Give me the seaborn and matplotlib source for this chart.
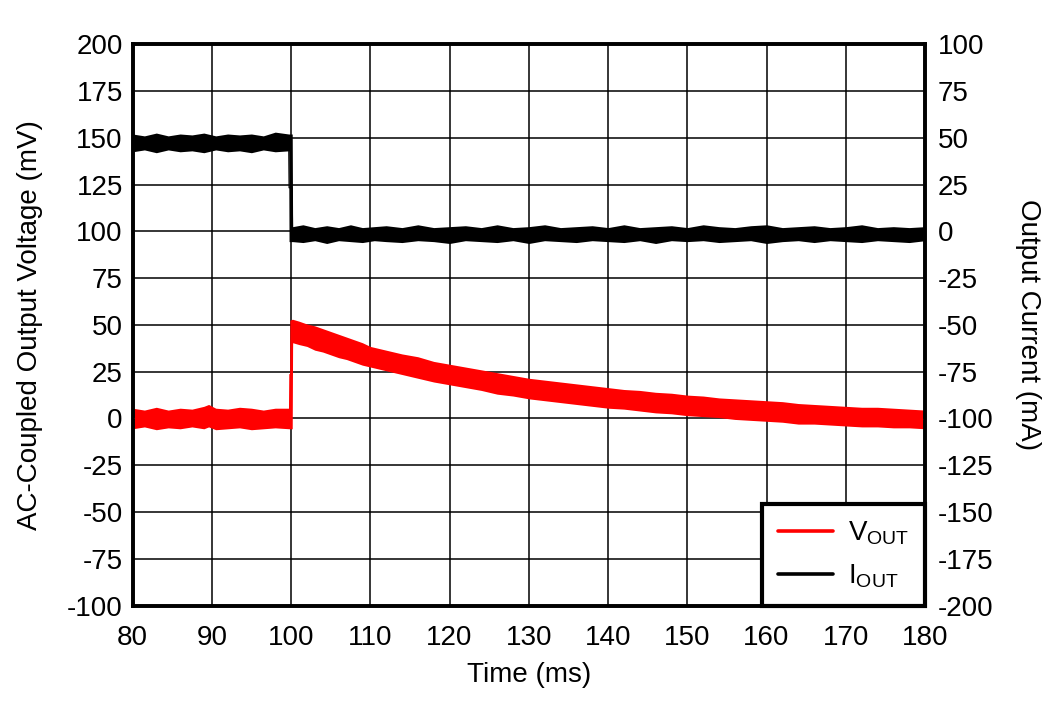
import numpy as np
import pandas as pd
import matplotlib
matplotlib.use("Agg")
import matplotlib.pyplot as plt
import seaborn as sns
from matplotlib.lines import Line2D

# ---------------- data ----------------
# V_OUT band envelope (mV): time (ms), lower edge, upper edge
v_time = [80, 81.5, 83, 84.5, 86, 87.5, 89, 89.6, 90.5, 92, 93.5, 95, 96.5, 98, 99.8,
          99.85, 100.15, 100.2, 101, 102, 103, 104, 105, 106, 107, 108, 109, 110,
          112, 114, 116, 118, 120, 122, 124, 126, 128, 130, 132, 134, 136,
          138, 140, 142, 144, 146, 148, 150, 152, 154, 156, 158, 160,
          162, 164, 166, 168, 170, 172, 174, 176, 178, 180]
v_low = [-5.5, -4.5, -6, -5, -5.5, -4.5, -5.5, -4.5, -6, -5.5, -5, -6, -5.5, -5, -5.5,
         -5.5, -5.5, 40.5, 39.5, 38.5, 36.5, 35.5, 34, 32.5, 31.5, 30, 28.5, 27.5,
         25.5, 23.5, 21.5, 19.5, 18, 16.5, 15, 13, 12, 10.5, 9.5, 8.5, 7.5,
         6.5, 5.5, 5, 4, 3, 2.5, 1.5, 1, 0.5, -0.5, -1, -1.5,
         -2, -3, -3, -3.5, -4, -4.5, -4.5, -5, -5, -5.5]
v_high = [5.5, 4.5, 6, 4.5, 5.5, 5, 6.5, 7.5, 5.5, 5, 6, 5.5, 4.5, 5.5, 5.5,
          52.5, 53, 53, 52, 50.5, 49.5, 48, 46.5, 45, 43.5, 42, 40.5, 38.5,
          36.5, 34.5, 33, 30.5, 29, 27.5, 26, 24.5, 23, 21.5, 20.5, 19.5, 18.5,
          17.5, 16.5, 15.5, 15, 14, 13.5, 12.5, 12, 11, 10.5, 10, 9.5,
          9, 8, 7.5, 7, 6.5, 6, 6, 5.5, 5, 4.5]

# I_OUT band envelope (mA): time (ms), lower edge, upper edge
i_time = [80, 81.5, 83, 84.5, 86, 87.5, 89, 90.5, 92, 93.5, 95, 96.5, 98, 99.7,
          99.75, 100.15, 100.2, 101.5, 103, 104.5, 106, 107.5, 109, 110.5, 112,
          114, 116, 118, 120, 122, 124, 126, 128, 130, 132, 134, 136, 138, 140,
          142, 144, 146, 148, 150, 152, 154, 156, 158, 160, 162, 164, 166,
          168, 170, 172, 174, 176, 178, 180]
i_low = [42.5, 43.5, 42, 43.5, 42.5, 43, 42, 43.5, 42.5, 43, 42, 43.5, 42.5, 43,
         -5.5, -5.5, -5.5, -6, -5, -6.5, -5, -5.5, -6, -5, -5.5,
         -6, -5, -5.5, -6.5, -5, -5.5, -6, -5, -6.5, -5, -5.5, -6, -5, -5.5,
         -6, -5, -6.5, -5, -5.5, -5, -6, -5.5, -5, -6.5, -5.5, -5, -6,
         -5, -5.5, -6, -5, -5.5, -6, -5]
i_high = [52, 51, 52.5, 51, 52, 51.5, 52.5, 51, 52, 51.5, 52, 51, 53, 52,
          52, 52, 2.5, 3.5, 2, 3, 2, 3.5, 2, 2.5, 3,
          2, 3.5, 2, 2.5, 3, 2, 3.5, 2, 2.5, 3.5, 2, 2.5, 3, 2,
          3.5, 2, 2.5, 3, 2, 3.5, 2.5, 2, 3, 3.5, 2, 2.5, 3,
          2, 2.5, 3.5, 2, 2.5, 2, 2.5]

x_ticks = list(range(80, 181, 10))
v_ticks = list(range(-100, 201, 25))
i_ticks = list(range(-200, 101, 25))

# ---------------- long-format frames ----------------
v_df = pd.DataFrame({"t": v_time + v_time, "v": v_low + v_high})
i_df = pd.DataFrame({"t": i_time + i_time, "v": i_low + i_high})

sns.set_theme(style="white")
plt.rcParams["font.family"] = ["Liberation Sans", "DejaVu Sans"]
plt.rcParams["mathtext.fontset"] = "custom"
plt.rcParams["mathtext.rm"] = "Liberation Sans"
plt.rcParams["axes.unicode_minus"] = False

FS = 20

fig = plt.figure(figsize=(10.56, 7.01), dpi=100)
ax = fig.add_axes([0.1255, 0.136, 0.7505, 0.801])
ax2 = ax.twinx()

red = "#ff0000"
black = "#000000"

sns.lineplot(data=v_df, x="t", y="v", estimator="mean", errorbar=("pi", 100),
             color=red, linewidth=0.8, err_kws={"alpha": 1, "linewidth": 0},
             legend=False, ax=ax, zorder=3)
sns.lineplot(data=i_df, x="t", y="v", estimator="mean", errorbar=("pi", 100),
             color=black, linewidth=0.8, err_kws={"alpha": 1, "linewidth": 0},
             legend=False, ax=ax2, zorder=3)

ax.set_xlim(80, 180)
ax.set_ylim(-100, 200)
ax2.set_ylim(-200, 100)
ax.set_xticks(x_ticks)
ax.set_yticks(v_ticks)
ax2.set_yticks(i_ticks)

ax.grid(True, color="black", linewidth=1.1, zorder=0)
ax.set_axisbelow(True)
ax2.grid(False)

ax.tick_params(axis="x", length=0, labelsize=FS, pad=14, colors="black")
ax.tick_params(axis="y", length=0, labelsize=FS, pad=7, colors="black")
ax2.tick_params(axis="y", length=0, labelsize=FS, pad=9, colors="black")

ax.set_xlabel("Time (ms)", fontsize=FS, labelpad=8, color="black")
ax.set_ylabel("AC-Coupled Output Voltage (mV)", fontsize=FS, labelpad=17, color="black")
ax2.set_ylabel("Output Current (mA)", fontsize=FS, rotation=270, labelpad=34, color="black")

for a in (ax, ax2):
    for s in a.spines.values():
        s.set_visible(True)
        s.set_color("black")
        s.set_linewidth(2.6)

handles = [Line2D([0], [0], color=red, lw=2.6),
           Line2D([0], [0], color=black, lw=2.6)]
labels = [r"V$_\mathregular{OUT}$", r"I$_\mathregular{OUT}$"]
leg = ax2.legend(handles, labels, loc="lower right", borderaxespad=0,
                 fontsize=FS, handlelength=2.0, handletextpad=0.55,
                 borderpad=0.55, labelspacing=0.55, fancybox=False,
                 framealpha=1, edgecolor="black")
leg.get_frame().set_linewidth(3.0)
for t in leg.get_texts():
    t.set_color("black")

fig.savefig("out.png", dpi=100)
